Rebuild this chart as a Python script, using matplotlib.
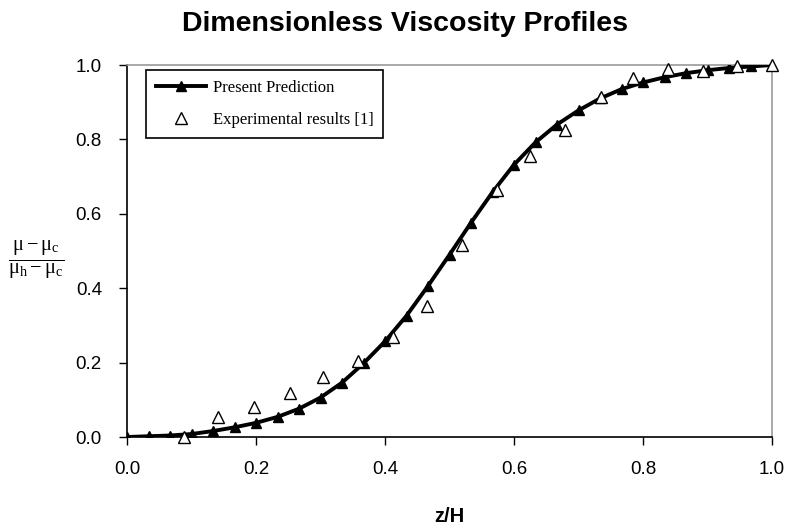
import numpy as np
import matplotlib
matplotlib.use("Agg")
import matplotlib.pyplot as plt

# predicted profile (31 points, z/H = 0 .. 1)
pred_x = [i / 30 for i in range(31)]
pred_y = [0.000, 0.002, 0.004, 0.008, 0.016, 0.026, 0.038, 0.054, 0.076, 0.106,
          0.146, 0.198, 0.257, 0.326, 0.406, 0.490, 0.576, 0.658, 0.732, 0.792,
          0.840, 0.878, 0.910, 0.935, 0.953, 0.967, 0.978, 0.986, 0.992, 0.996,
          1.000]

# experimental results [1]
exp_x = [0.088, 0.141, 0.197, 0.253, 0.304, 0.358, 0.412, 0.465, 0.519, 0.574,
         0.625, 0.679, 0.735, 0.784, 0.839, 0.893, 0.946, 1.0]
exp_y = [0.0, 0.054, 0.081, 0.119, 0.162, 0.205, 0.270, 0.353, 0.517, 0.663,
         0.755, 0.825, 0.914, 0.965, 0.989, 0.984, 0.997, 1.0]

xticks = [0.0, 0.2, 0.4, 0.6, 0.8, 1.0]
yticks = [0.0, 0.2, 0.4, 0.6, 0.8, 1.0]

sans = ['Liberation Sans', 'DejaVu Sans']
serif = ['Liberation Serif', 'DejaVu Serif']

plt.rcParams['mathtext.fontset'] = 'custom'
plt.rcParams['mathtext.rm'] = 'Liberation Serif'
plt.rcParams['mathtext.it'] = 'Liberation Serif'

fig = plt.figure(figsize=(7.89, 5.31), dpi=100)
ax = fig.add_axes([127 / 789, 1 - 437 / 531, (772 - 127) / 789, (437 - 65) / 531])

ax.plot(pred_x, pred_y, color='black', lw=2.8, marker='^', markersize=7,
        markerfacecolor='black', markeredgecolor='black', label='Present Prediction',
        zorder=3)
ax.plot(exp_x, exp_y, ls='none', marker='^', markersize=8, markerfacecolor='white',
        markeredgecolor='black', markeredgewidth=1.0, label='Experimental results [1]',
        zorder=4, clip_on=False)

ax.set_xlim(0, 1)
ax.set_ylim(0, 1)
ax.set_xticks(xticks)
ax.set_yticks(yticks)
ax.set_xticklabels([f"{t:.1f}" for t in xticks], fontfamily=sans, fontsize=13.5)
ax.set_yticklabels([f"{t:.1f}" for t in yticks], fontfamily=sans, fontsize=13.5)
ax.tick_params(direction='out', length=6, width=1, pad=12)
ax.tick_params(axis='x', pad=11)

for s in ['left', 'bottom']:
    ax.spines[s].set_color('black')
    ax.spines[s].set_linewidth(1.2)
for s in ['top', 'right']:
    ax.spines[s].set_color('#999999')
    ax.spines[s].set_linewidth(1.2)

fig.text(405 / 789, 1 - 24 / 531, 'Dimensionless Viscosity Profiles', ha='center', va='center',
         fontsize=20.5, fontweight='bold', fontfamily=sans)
fig.text(449 / 789, 1 - 517 / 531, 'z/H', ha='center', va='center',
         fontsize=14.5, fontweight='bold', fontfamily=sans)

fig.text(36 / 789, 1 - 260 / 531, r'$\frac{\mathrm{\mu - \mu_c}}{\mathrm{\mu_h - \mu_c}}$',
         ha='center', va='center', fontsize=21)

leg = ax.legend(loc='upper left', bbox_to_anchor=(19 / 645, 1 - 5 / 372),
                prop={'family': serif, 'size': 12}, frameon=True, fancybox=False,
                edgecolor='black', framealpha=1, borderpad=0.6, labelspacing=0.95,
                handlelength=3.0, handletextpad=0.4, borderaxespad=0)
leg.get_frame().set_linewidth(1.2)

fig.savefig('out.png', dpi=100, facecolor='white')
